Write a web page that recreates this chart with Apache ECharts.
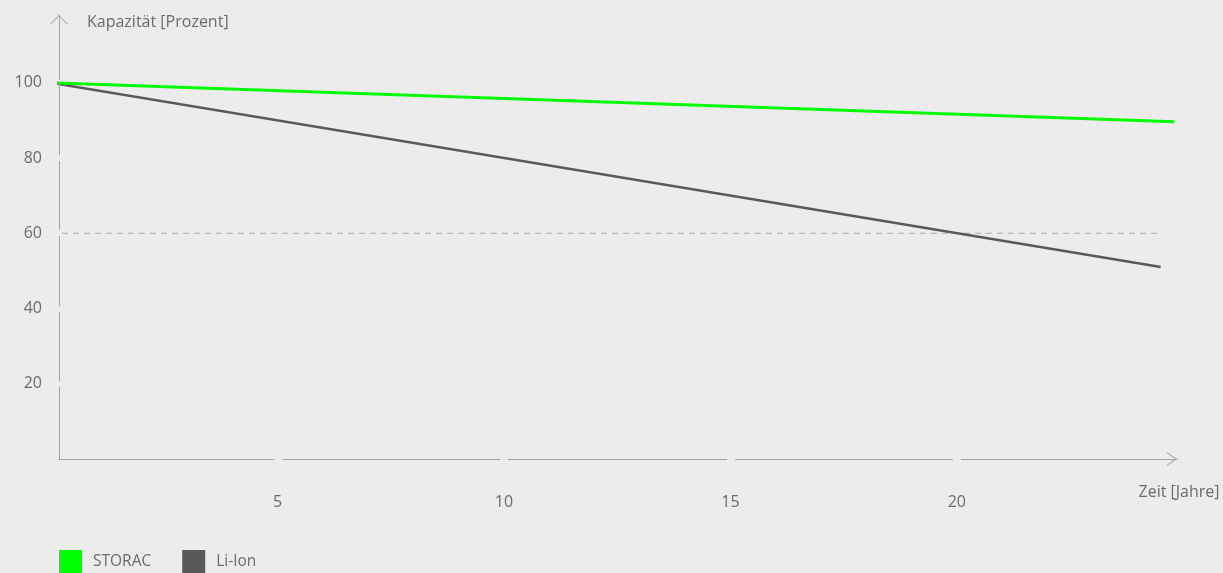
<!DOCTYPE html>
<html>
<head>
<meta charset="utf-8">
<script src="https://cdn.jsdelivr.net/npm/echarts@6/dist/echarts.min.js"></script>
<style>
html,body{margin:0;padding:0;background:#ebeceb;}
#chart{width:1223px;height:573px;}
</style>
</head>
<body>
<div id="chart"></div>
<script>
// Data
const xTickValues = [5, 10, 15, 20];
const yTickValues = [20, 40, 60, 80, 100];
const storacData = [[0, 100], [24.8, 89.6]];
const liIonData = [[0, 100], [24.5, 51]];
const thresholdData = [[0, 60], [24.5, 60]];
const seriesNames = ['STORAC', 'Li-Ion'];
const xAxisName = 'Zeit [Jahre]';
const yAxisName = 'Kapazität [Prozent]';

const BG = '#ebeceb';
const AXIS = '#a3a3a3';
const TEXT = '#6b6b6b';
const FONT = '"Open Sans", "Noto Sans", sans-serif';

const chart = echarts.init(document.getElementById('chart'));
chart.setOption({
  backgroundColor: BG,
  animation: false,
  textStyle: { fontFamily: FONT },
  grid: { left: 59, right: 46, top: 15, bottom: 114, containLabel: false },
  legend: {
    data: seriesNames,
    left: 59,
    top: 550,
    padding: 0,
    itemWidth: 23,
    itemHeight: 23,
    itemGap: 31,
    icon: 'rect',
    textStyle: { color: TEXT, fontSize: 15.5, fontFamily: FONT, padding: [0, 0, 0, 6] }
  },
  xAxis: {
    type: 'value',
    min: 0.177,
    max: 24.86,
    name: xAxisName,
    nameLocation: 'end',
    nameGap: 2,
    nameTextStyle: { color: TEXT, fontSize: 16, fontFamily: FONT, align: 'center', verticalAlign: 'top', padding: [25, 0, 0, 0] },
    axisLine: {
      show: true,
      lineStyle: { color: AXIS, width: 1 },
      symbol: ['none', 'path://M0,10 L7,0 L14,10 L12.8,10 L7,1.7 L1.2,10 Z'],
      symbolSize: [14, 10],
      symbolOffset: [0, -5]
    },
    axisTick: {
      show: true,
      customValues: xTickValues,
      length: 1,
      lineStyle: { color: BG, width: 8, cap: 'square' }
    },
    axisLabel: {
      customValues: xTickValues,
      color: TEXT,
      fontSize: 16,
      fontFamily: FONT,
      margin: 35
    },
    splitLine: { show: false }
  },
  yAxis: {
    type: 'value',
    min: 0,
    max: 118,
    name: yAxisName,
    nameLocation: 'end',
    nameGap: -7,
    nameTextStyle: { color: TEXT, fontSize: 16, fontFamily: FONT, align: 'left', verticalAlign: 'middle', padding: [0, 0, 0, 28] },
    axisLine: {
      show: true,
      lineStyle: { color: AXIS, width: 1 },
      symbol: ['none', 'path://M0,10 L10,0 L20,10 L18.5,10 L10,1.5 L1.5,10 Z'],
      symbolSize: [18, 9],
      symbolOffset: [0, -4.5]
    },
    axisTick: {
      show: true,
      customValues: yTickValues,
      length: 1,
      lineStyle: { color: BG, width: 6, cap: 'square' }
    },
    axisLabel: {
      customValues: yTickValues,
      color: TEXT,
      fontSize: 16,
      fontFamily: FONT,
      margin: 17
    },
    splitLine: { show: false }
  },
  series: [
    {
      name: 'Grenze',
      type: 'line',
      data: thresholdData,
      symbol: 'none',
      silent: true,
      lineStyle: { color: '#a8a8a8', width: 1, type: [6, 5] },
      z: 1
    },
    {
      name: seriesNames[0],
      type: 'line',
      data: storacData,
      symbol: 'none',
      color: '#00ff00',
      lineStyle: { color: '#00ff00', width: 3 },
      z: 3
    },
    {
      name: seriesNames[1],
      type: 'line',
      data: liIonData,
      symbol: 'none',
      color: '#59595b',
      lineStyle: { color: '#59595b', width: 2.5 },
      z: 2
    }
  ]
});
</script>
</body>
</html>
